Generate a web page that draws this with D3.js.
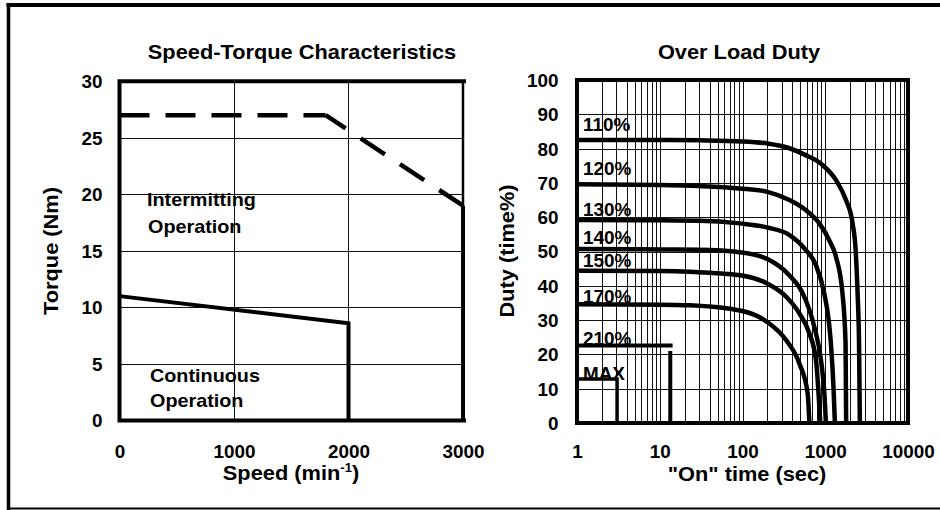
<!DOCTYPE html>
<html>
<head>
<meta charset="utf-8">
<script src="https://cdn.jsdelivr.net/npm/d3@7"></script>
<style>
  html, body { margin: 0; padding: 0; background: #fff; }
  text { font-family: "Liberation Sans", Arial, sans-serif; font-weight: bold; fill: #000; }
</style>
</head>
<body>
<script>
// ---------- Data: Speed-Torque ----------
const speedTicks = [0, 1000, 2000, 3000];
const torqueTicks = [0, 5, 10, 15, 20, 25, 30];
const intermitSpeed = [0, 1800, 3000, 3000];
const intermitTorque = [27, 27, 19, 0];
const continuousSpeed = [0, 2000, 2000];
const continuousTorque = [11, 8.6, 0];

// ---------- Data: Over Load Duty ----------
const onTimeTicks = [1, 10, 100, 1000, 10000];
const dutyTicks = [0, 10, 20, 30, 40, 50, 60, 70, 80, 90, 100];
const curveNames = ["110%", "120%", "130%", "140%", "150%", "170%", "210%", "MAX"];
const labelDuty = [85, 72.2, 60.4, 52.3, 45.4, 35, 22.6, 12.4];
const time110 = [1, 10, 30, 100, 200, 370, 580, 930, 1350, 1780, 2140, 2330, 2460, 2560, 2620];
const duty110 = [82.5, 82.5, 82.4, 82.1, 81.5, 80.1, 78.1, 75.2, 70.8, 65, 58.2, 50.4, 37.8, 23.2, 0];
const time120 = [1, 10, 30, 93, 200, 370, 580, 848, 1117, 1350, 1615, 1760, 1790];
const duty120 = [69.6, 69.4, 69.1, 68.4, 67.4, 65, 62.1, 58.2, 53.3, 48.4, 37.8, 23.2, 0];
const time130 = [1, 10, 30, 93, 200, 370, 580, 773, 973, 1100, 1170, 1260, 1307];
const duty130 = [59.2, 59.1, 59, 58.2, 57, 54.8, 50.5, 46, 37.8, 30, 23.2, 10, 0];
const time140 = [1, 10, 30, 93, 200, 370, 535, 738, 888, 980, 1019];
const duty140 = [50.7, 50.6, 50.5, 49.8, 47.8, 43, 37.8, 28, 18.3, 8, 0];
const time150 = [1, 10, 23, 93, 198, 338, 488, 643, 773, 871];
const duty150 = [44.4, 44.3, 44.1, 43.1, 40.7, 36.8, 31.9, 26.1, 18.3, 0];
const time170 = [1, 10, 23, 93, 198, 338, 488, 613, 643];
const duty170 = [34.6, 34.5, 34.3, 32.8, 29.5, 24.1, 17.3, 8.6, 0];
const time210 = [1, 14.3];
const duty210 = [22.6, 22.6];
const time210b = [13.4, 13.4];
const duty210b = [21, 0];
const timeMax = [1, 3.05, 3.05];
const dutyMax = [12.8, 12.8, 0];

const W = 940, H = 510;
const svg = d3.select("body").append("svg").attr("width", W).attr("height", H);

// outer frame
svg.append("line").attr("x1", 6.5).attr("x2", W).attr("y1", 5).attr("y2", 5).attr("stroke", "#000").attr("stroke-width", 4);
svg.append("line").attr("x1", 8.5).attr("x2", 8.5).attr("y1", 3).attr("y2", H).attr("stroke", "#000").attr("stroke-width", 3.5);
svg.append("line").attr("x1", 7).attr("x2", W).attr("y1", 508.5).attr("y2", 508.5).attr("stroke", "#000").attr("stroke-width", 2);

function label(g, x, y, txt, size, sx, rotate, anchor) {
  const t = g.append("text")
    .attr("transform", `translate(${x},${y})` + (rotate ? ` rotate(${rotate})` : "") + ` scale(${sx},1)`)
    .attr("text-anchor", anchor || "middle")
    .style("font-size", size + "px");
  if (typeof txt === "string") t.text(txt);
  return t;
}

// ---------- Left chart ----------
const gL = svg.append("g");
const xS = d3.scaleLinear().domain([0, 3000]).range([119.5, 463]);
const yS = d3.scaleLinear().domain([0, 30]).range([420.5, 81.3]);

gL.selectAll("line.vg").data(speedTicks.slice(1, -1)).join("line")
  .attr("x1", d => Math.round(xS(d)) + 0.5).attr("x2", d => Math.round(xS(d)) + 0.5)
  .attr("y1", yS(30)).attr("y2", yS(0)).attr("stroke", "#111").attr("stroke-width", 1);
gL.selectAll("line.hg").data(torqueTicks.slice(1, -1)).join("line")
  .attr("y1", d => Math.round(yS(d)) + 0.5).attr("y2", d => Math.round(yS(d)) + 0.5)
  .attr("x1", xS(0)).attr("x2", xS(3000)).attr("stroke", "#111").attr("stroke-width", 1);

// plot frame: left/top/bottom heavy, right lighter
const fx0 = xS(0), fx1 = xS(3000), fy0 = yS(0), fy1 = yS(30);
gL.append("line").attr("x1", fx1).attr("x2", fx1).attr("y1", fy1).attr("y2", fy0).attr("stroke", "#000").attr("stroke-width", 2.5);
gL.append("path").attr("d", `M${fx1 + 1},${fy1}H${fx0}V${fy0}H${fx1 + 1}`)
  .attr("fill", "none").attr("stroke", "#000").attr("stroke-width", 4).attr("stroke-linecap", "square");

const lineL = d3.line().x(d => xS(d[0])).y(d => yS(d[1]));
const interPts = intermitSpeed.map((s, i) => [s, intermitTorque[i]]);
gL.append("path").attr("d", lineL(interPts.slice(0, 2)))
  .attr("fill", "none").attr("stroke", "#000").attr("stroke-width", 4.5).attr("stroke-dasharray", "30,16");
gL.append("path").attr("d", lineL(interPts.slice(1, 3)))
  .attr("fill", "none").attr("stroke", "#000").attr("stroke-width", 4.5)
  .attr("stroke-dasharray", "29,18").attr("stroke-dashoffset", 5);
gL.append("path").attr("d", lineL(interPts.slice(2, 4)))
  .attr("fill", "none").attr("stroke", "#000").attr("stroke-width", 4);
gL.append("path").attr("d", lineL(continuousSpeed.map((s, i) => [s, continuousTorque[i]])))
  .attr("fill", "none").attr("stroke", "#000").attr("stroke-width", 4);

// axes
const axL = gL.append("g").attr("transform", "translate(102.5,0)")
  .call(d3.axisLeft(yS).tickValues(torqueTicks).tickSize(0).tickPadding(0));
axL.select(".domain").remove();
axL.selectAll("text").attr("x", 0).attr("dy", "0.36em").attr("transform", "scale(1.05,1)")
  .style("font-size", "18px").style("font-family", "Liberation Sans, Arial, sans-serif").style("font-weight", "bold");
const axB = gL.append("g").attr("transform", "translate(0,458)")
  .call(d3.axisBottom(xS).tickValues(speedTicks).tickFormat(d3.format("d")).tickSize(0).tickPadding(0));
axB.select(".domain").remove();
axB.selectAll("text").attr("y", 0).attr("dy", 0).attr("transform", "scale(1.05,1)")
  .style("font-size", "18px").style("font-family", "Liberation Sans, Arial, sans-serif").style("font-weight", "bold");

label(gL, 302, 59, "Speed-Torque Characteristics", 20, 1.09);
const sp = label(gL, 291, 480, null, 20, 1.09);
sp.append("tspan").text("Speed (min");
sp.append("tspan").attr("dy", -8).style("font-size", "12px").text("-1");
sp.append("tspan").attr("dy", 8).text(")");
label(gL, 57.5, 251, "Torque (Nm)", 20, 1.09, -90);
label(gL, 147, 206, "Intermitting", 18, 1.1, 0, "start");
label(gL, 148, 233, "Operation", 18, 1.1, 0, "start");
label(gL, 150, 381.5, "Continuous", 18, 1.1, 0, "start");
label(gL, 150, 406.5, "Operation", 18, 1.1, 0, "start");

// ---------- Right chart ----------
const gR = svg.append("g");
const xR = d3.scaleLog().domain([1, 10000]).range([577, 908]);
const yR = d3.scaleLinear().domain([0, 100]).range([423, 80]);

const minor = xR.ticks().filter(d => d > 1 && d < 10000);
gR.selectAll("line.vg").data(minor).join("line")
  .attr("x1", d => Math.round(xR(d)) + 0.5).attr("x2", d => Math.round(xR(d)) + 0.5)
  .attr("y1", yR(100)).attr("y2", yR(0)).attr("stroke", "#111").attr("stroke-width", 1);
gR.selectAll("line.hg").data(dutyTicks.slice(1, -1)).join("line")
  .attr("y1", d => Math.round(yR(d)) + 0.5).attr("y2", d => Math.round(yR(d)) + 0.5)
  .attr("x1", xR(1)).attr("x2", xR(10000)).attr("stroke", "#111").attr("stroke-width", 1);

gR.append("rect").attr("x", xR(1)).attr("y", yR(100)).attr("width", xR(10000) - xR(1)).attr("height", yR(0) - yR(100))
  .attr("fill", "none").attr("stroke", "#000").attr("stroke-width", 4);

const curveLine = d3.line().x(d => xR(d[0])).y(d => yR(d[1])).curve(d3.curveMonotoneX);
const straight = d3.line().x(d => xR(d[0])).y(d => yR(d[1]));
const zip = (a, b) => a.map((v, i) => [v, b[i]]);
const curves = [[time110, duty110], [time120, duty120], [time130, duty130], [time140, duty140], [time150, duty150], [time170, duty170]];
curves.forEach(c => {
  gR.append("path").attr("d", curveLine(zip(c[0], c[1]))).attr("fill", "none").attr("stroke", "#000").attr("stroke-width", 4.5);
});
gR.append("path").attr("d", straight(zip(time210, duty210))).attr("fill", "none").attr("stroke", "#000").attr("stroke-width", 4);
gR.append("path").attr("d", straight(zip(time210b, duty210b))).attr("fill", "none").attr("stroke", "#000").attr("stroke-width", 4);
gR.append("path").attr("d", straight(zip(timeMax, dutyMax))).attr("fill", "none").attr("stroke", "#000").attr("stroke-width", 3.5);

curveNames.forEach((n, i) => label(gR, 583, yR(labelDuty[i]), n, 18, 1.05, 0, "start"));

const axRL = gR.append("g").attr("transform", "translate(558.5,0)")
  .call(d3.axisLeft(yR).tickValues(dutyTicks).tickSize(0).tickPadding(0));
axRL.select(".domain").remove();
axRL.selectAll("text").attr("x", 0).attr("dy", "0.36em").attr("transform", "scale(1.05,1)")
  .style("font-size", "18px").style("font-family", "Liberation Sans, Arial, sans-serif").style("font-weight", "bold");
const axRB = gR.append("g").attr("transform", "translate(0,458)")
  .call(d3.axisBottom(xR).tickValues(onTimeTicks).tickFormat(d3.format("d")).tickSize(0).tickPadding(0));
axRB.select(".domain").remove();
axRB.selectAll("text").attr("y", 0).attr("dy", 0).attr("transform", "scale(1.05,1)")
  .style("font-size", "18px").style("font-family", "Liberation Sans, Arial, sans-serif").style("font-weight", "bold");

label(gR, 739, 59, "Over Load Duty", 20, 1.09);
label(gR, 747, 481, "\"On\" time (sec)", 20, 1.09);
label(gR, 513.5, 251, "Duty (time%)", 20, 1.09, -90);
</script>
</body>
</html>
